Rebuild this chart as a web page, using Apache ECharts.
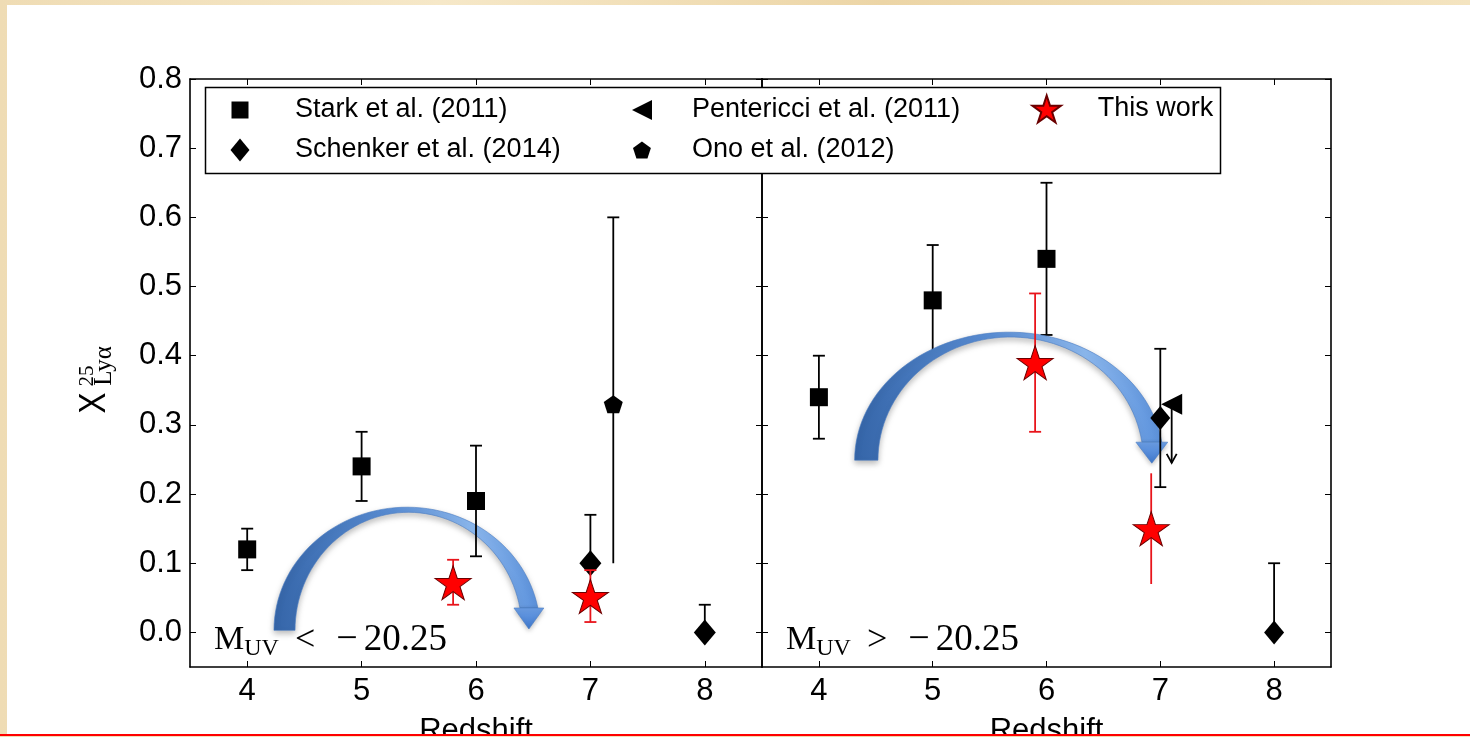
<!DOCTYPE html>
<html>
<head>
<meta charset="utf-8">
<script src="https://cdn.jsdelivr.net/npm/echarts@6/dist/echarts.min.js"></script>
<style>
html,body{margin:0;padding:0;width:1470px;height:737px;overflow:hidden;
  background:linear-gradient(90deg,#efdcb4 0%,#f6e8c8 30%,#ecd5a6 60%,#f4e4c0 100%);}
#bg{position:absolute;left:7px;top:5px;width:1463px;height:730px;background:#fff;}
#chart{position:absolute;left:0;top:0;width:1470px;height:735px;}
#rule{position:absolute;left:0;top:734px;width:1470px;height:2px;background:#ff0000;}
</style>
</head>
<body>
<div id="bg"></div>
<div id="chart"></div>
<div id="rule"></div>
<script>
// ---------------- data ----------------
const xTickValues = [4, 5, 6, 7, 8];
const yTickValues = [0, 0.1, 0.2, 0.3, 0.4, 0.5, 0.6, 0.7, 0.8];
const xTitle = 'Redshift';
const panelRelations = ['<', '>'];
const panelThreshold = '20.25';

const nameStark = 'Stark et al. (2011)';
const nameSchenker = 'Schenker et al. (2014)';
const namePentericci = 'Pentericci et al. (2011)';
const nameOno = 'Ono et al. (2012)';
const nameThis = 'This work';

// Left panel: M_UV < -20.25   [redshift, X_Lya]
const starkL = [[4, 0.12], [5, 0.24], [6, 0.19]];
const starkLErr = [[0.09, 0.15], [0.19, 0.29], [0.11, 0.27]];
const schenkerL = [[7, 0.10], [8, 0.0]];
const schenkerLErr = [[null, 0.17], [null, 0.04]];
const onoL = [[7.2, 0.33]];
const onoLErr = [[0.10, 0.60]];
const onoLCaps = [[false, true]];
const thisL = [[5.8, 0.072], [7.0, 0.052]];
const thisLErr = [[0.04, 0.105], [0.015, 0.09]];

// Right panel: M_UV > -20.25
const starkR = [[4, 0.34], [5, 0.48], [6, 0.54]];
const starkRErr = [[0.28, 0.40], [0.40, 0.56], [0.43, 0.65]];
const schenkerR = [[7.0, 0.31], [8, 0.0]];
const schenkerRErr = [[0.21, 0.41], [null, 0.10]];
const pentericciR = [[7.1, 0.33]];
const pentericciRLimit = [0.245];
const thisR = [[5.9, 0.39], [6.92, 0.15]];
const thisRErr = [[0.29, 0.49], [0.07, 0.23]];
const thisRCaps = [[true, true], [false, false]];

// ---------------- styling ----------------
const SANS = '"Liberation Sans", Arial, Helvetica, sans-serif';
const SERIF = '"Liberation Serif", "Times New Roman", serif';
const SYM = {
  square: 'path://M0,0L10,0L10,10L0,10Z',
  diamond: 'path://M10,0L20,12L10,24L0,12Z',
  left: 'path://M0,10L20,0L20,20Z',
  star: 'path://M50,0L61.23,34.55L97.55,34.55L68.17,55.9L79.39,90.45L50,69.1L20.61,90.45L31.83,55.9L2.45,34.55L38.77,34.55Z',
  pentagon: 'path://M50,0L97.55,34.55L79.39,90.45L20.61,90.45L2.45,34.55Z'
};

const chart = echarts.init(document.getElementById('chart'), null, {renderer: 'canvas'});

function xAxisDef(grid, pos) {
  const bottom = pos === 'bottom';
  return {
    type: 'value', gridIndex: grid, position: pos, min: 3.5, max: 8.5,
    axisLine: {show: true, onZero: false, lineStyle: {color: '#000', width: 1.6}},
    axisTick: {show: true, inside: true, length: 6, customValues: xTickValues, lineStyle: {color: '#000', width: 1}},
    axisLabel: {show: bottom, customValues: xTickValues, margin: 9, fontSize: 31, color: '#000', fontFamily: SANS,
      formatter: v => String(v)},
    splitLine: {show: false},
    name: bottom ? xTitle : '', nameLocation: 'middle', nameGap: 49, nameMoveOverlap: false,
    nameTextStyle: {fontSize: 31, color: '#000', fontFamily: SANS}
  };
}
function yAxisDef(grid, pos, labels) {
  return {
    type: 'value', gridIndex: grid, position: pos, min: -0.05, max: 0.8,
    axisLine: {show: true, onZero: false, lineStyle: {color: '#000', width: 1.6}},
    axisTick: {show: true, inside: true, length: 6, customValues: yTickValues, lineStyle: {color: '#000', width: 1}},
    axisLabel: {show: labels, customValues: yTickValues, margin: 8, fontSize: 31, color: '#000', fontFamily: SANS,
      formatter: v => v.toFixed(1)},
    splitLine: {show: false}
  };
}

function scatter(name, pts, ax, symbol, size, color, border, z) {
  return {
    type: 'scatter', name, xAxisIndex: ax, yAxisIndex: ax, data: pts,
    symbol, symbolSize: size, z: z || 4, silent: true, emphasis: {disabled: true},
    itemStyle: {color, borderColor: border || color, borderWidth: border ? 1 : 0, opacity: 1}
  };
}
function buildErr(pts, errs, caps) {
  return pts.map((p, i) => {
    const e = errs[i], c = caps ? caps[i] : [true, true];
    const hasLo = e[0] != null, hasHi = e[1] != null;
    return [p[0], p[1], hasLo ? e[0] : p[1], hasHi ? e[1] : p[1], (hasLo && c[0]) ? 1 : 0, (hasHi && c[1]) ? 1 : 0];
  });
}
function errSeries(pts, errs, caps, ax, color, z) {
  return {
    type: 'custom', xAxisIndex: ax, yAxisIndex: ax, silent: true, z: z || 3, clip: false,
    encode: {x: 0, y: 1},
    data: buildErr(pts, errs, caps),
    renderItem: function (params, api) {
      const x = api.value(0);
      const pLo = api.coord([x, api.value(2)]);
      const pHi = api.coord([x, api.value(3)]);
      const st = {stroke: color, lineWidth: 1.8};
      const ch = [{type: 'line', shape: {x1: pLo[0], y1: pLo[1], x2: pHi[0], y2: pHi[1]}, style: st}];
      if (api.value(4)) ch.push({type: 'line', shape: {x1: pLo[0] - 6, y1: pLo[1], x2: pLo[0] + 6, y2: pLo[1]}, style: st});
      if (api.value(5)) ch.push({type: 'line', shape: {x1: pHi[0] - 6, y1: pHi[1], x2: pHi[0] + 6, y2: pHi[1]}, style: st});
      return {type: 'group', children: ch};
    }
  };
}
function limitSeries(pts, limits, ax) {
  return {
    type: 'custom', xAxisIndex: ax, yAxisIndex: ax, silent: true, z: 3, clip: false,
    encode: {x: 0, y: 1},
    data: pts.map((p, i) => [p[0], p[1], limits[i]]),
    renderItem: function (params, api) {
      const x = api.value(0);
      const a = api.coord([x, api.value(1)]);
      const b = api.coord([x, api.value(2)]);
      const st = {stroke: '#000', lineWidth: 1.8, fill: null};
      return {type: 'group', children: [
        {type: 'line', shape: {x1: a[0], y1: a[1], x2: b[0], y2: b[1]}, style: st},
        {type: 'polyline', shape: {points: [[b[0] - 5, b[1] - 9], [b[0], b[1]], [b[0] + 5, b[1] - 9]]}, style: st}
      ]};
    }
  };
}

const starSize = [36, 34];
const series = [
  // left panel (axes index 0)
  errSeries(starkL, starkLErr, null, 0, '#000', 3),
  errSeries(schenkerL, schenkerLErr, null, 0, '#000', 3),
  errSeries(onoL, onoLErr, onoLCaps, 0, '#000', 3),
  errSeries(thisL, thisLErr, null, 0, '#e8141b', 5),
  scatter(nameStark, starkL, 0, SYM.square, [18, 18], '#000'),
  scatter(nameSchenker, schenkerL, 0, SYM.diamond, [22, 26], '#000'),
  scatter(nameOno, onoL, 0, SYM.pentagon, [19, 18], '#000'),
  scatter(nameThis, thisL, 0, SYM.star, starSize, '#ff0000', '#6a0000', 6),
  // right panel (axes index 2)
  errSeries(starkR, starkRErr, null, 2, '#000', 1),
  errSeries(schenkerR, schenkerRErr, null, 2, '#000', 3),
  limitSeries(pentericciR, pentericciRLimit, 2),
  errSeries(thisR, thisRErr, thisRCaps, 2, '#e8141b', 5),
  scatter(nameStark, starkR, 2, SYM.square, [18, 18], '#000'),
  scatter(nameSchenker, schenkerR, 2, SYM.diamond, [20, 24], '#000'),
  scatter(namePentericci, pentericciR, 2, SYM.left, [21, 21], '#000'),
  scatter(nameThis, thisR, 2, SYM.star, starSize, '#ff0000', '#6a0000', 6)
];

// single-item legends laid out in the boxed key: [name, iconCenterX, rowCenterY, iconW, iconH, textStartX]
const legendSlots = [
  [nameStark, 240, 110, 17, 17, 295],
  [nameSchenker, 240, 150, 19, 26, 295],
  [namePentericci, 642, 110, 20, 20, 692],
  [nameOno, 642, 150, 18, 17, 692],
  [nameThis, 1046, 109, 29, 27, 1097]
];
const legends = legendSlots.map(s => {
  const [name, cx, cy, w, h, tx] = s;
  const lh = 30;
  return {
    data: [name], orient: 'vertical', padding: 0, z: 8, selectedMode: false,
    left: cx - w / 2, top: cy - Math.max(h, lh) / 2,
    itemWidth: w, itemHeight: h, symbolKeepAspect: true,
    formatter: n => '{sp| }' + n,
    textStyle: {fontSize: 27, fontFamily: SANS, color: '#000', lineHeight: lh,
      rich: {sp: {width: tx - (cx + w / 2) - 5, lineHeight: lh}}}
  };
});

const option = {
  animation: false,
  backgroundColor: 'transparent',
  grid: [
    {left: 190, top: 79, width: 572, height: 588, outerBoundsMode: 'none', containLabel: false},
    {left: 762, top: 79, width: 569, height: 588, outerBoundsMode: 'none', containLabel: false}
  ],
  xAxis: [xAxisDef(0, 'bottom'), xAxisDef(0, 'top'), xAxisDef(1, 'bottom'), xAxisDef(1, 'top')],
  yAxis: [yAxisDef(0, 'left', true), yAxisDef(0, 'right', false), yAxisDef(1, 'left', false), yAxisDef(1, 'right', false)],
  legend: legends,
  series
};
chart.setOption(option);

// ---------------- annotations (curved arrows, panel labels, y title) ----------------
const arrowDefs = [
  {ax: 0, base: 0.003, outer: [5.397, 1.163, 0.178], inner: [5.41, 0.992, 0.1706], endY: 0.0353},
  {ax: 2, base: 0.249, outer: [5.670, 1.356, 0.185], inner: [5.685, 1.166, 0.178], endY: 0.275}
];
function px(ax, x, y) { return chart.convertToPixel({xAxisIndex: ax, yAxisIndex: ax}, [x, y]); }
function ellipse(ax, base, e, endY) {
  const c = px(ax, e[0], base);
  const a = px(ax, e[0] + e[1], base)[0] - c[0];
  const b = c[1] - px(ax, e[0], base + e[2])[1];
  const yEnd = px(ax, e[0], endY)[1];
  const tEnd = Math.asin(Math.min(1, (c[1] - yEnd) / b));
  const pts = [];
  const N = 60;
  for (let i = 0; i <= N; i++) {
    const t = Math.PI + (tEnd - Math.PI) * i / N;
    pts.push([c[0] + a * Math.cos(t), c[1] - b * Math.sin(t)]);
  }
  return pts;
}
const graphics = [];
arrowDefs.forEach(d => {
  const o = ellipse(d.ax, d.base, d.outer, d.endY);
  const inn = ellipse(d.ax, d.base, d.inner, d.endY);
  const shaft = o.concat(inn.slice().reverse());
  const O = o[o.length - 1], I = inn[inn.length - 1];
  let dx = O[0] - I[0], dy = O[1] - I[1];
  const L = Math.hypot(dx, dy); dx /= L; dy /= L;
  const ext = 6, headLen = 21;
  const mid = [(O[0] + I[0]) / 2, (O[1] + I[1]) / 2];
  const tip = [mid[0] - dy * headLen, mid[1] + dx * headLen];
  const head = [[I[0] - dx * ext, I[1] - dy * ext], [O[0] + dx * ext, O[1] + dy * ext], tip];
  graphics.push({
    type: 'polygon', z: 2, silent: true,
    shape: {points: shaft},
    style: {
      fill: new echarts.graphic.LinearGradient(0, 0, 1, 0, [
        {offset: 0, color: '#3565a8'}, {offset: 0.45, color: '#5b8fd6'},
        {offset: 0.75, color: '#8cb8ee'}, {offset: 1, color: '#5c92dc'}]),
      stroke: '#4a7cc2', lineWidth: 0.6,
      shadowBlur: 6, shadowOffsetY: 3, shadowColor: 'rgba(0,0,0,0.28)'
    }
  });
  graphics.push({
    type: 'polygon', z: 2, silent: true,
    shape: {points: head},
    style: {
      fill: new echarts.graphic.LinearGradient(0, 0, 0, 1, [
        {offset: 0, color: '#6c9fe6'}, {offset: 1, color: '#3f78cc'}]),
      stroke: '#4a7cc2', lineWidth: 0.6,
      shadowBlur: 5, shadowOffsetY: 2, shadowColor: 'rgba(0,0,0,0.25)'
    }
  });
});

// panel labels  M_UV < / > -20.25
[0, 2].forEach((ax, i) => {
  const p = px(ax, 3.5, 0);
  graphics.push({
    type: 'text', z: 7, silent: true, x: p[0] + 24, y: p[1] + 8,
    style: {
      text: '{m|M}{s|UV}{o|' + panelRelations[i] + '}{d|\u2212}{n|' + panelThreshold + '}',
      fill: '#000', align: 'left', verticalAlign: 'middle',
      rich: {
        m: {fontSize: 34, fontFamily: SERIF, lineHeight: 40, verticalAlign: 'middle', fill: '#000'},
        s: {fontSize: 24, fontFamily: SERIF, lineHeight: 18, verticalAlign: 'bottom', fill: '#000'},
        o: {fontSize: 36, fontFamily: SERIF, lineHeight: 40, verticalAlign: 'middle', fill: '#000', padding: [0, 0, 0, 16]},
        d: {fontSize: 38, fontFamily: SERIF, lineHeight: 40, verticalAlign: 'middle', fill: '#000', padding: [0, 0, 0, 21]},
        n: {fontSize: 37, fontFamily: SERIF, lineHeight: 40, verticalAlign: 'middle', fill: '#000', padding: [0, 0, 0, 6]}
      }
    }
  });
});

// y-axis title  X^25_{Lyα}  (rotated)
graphics.push(
  {type: 'text', z: 7, silent: true, x: 95, y: 403, rotation: Math.PI / 2, scaleX: 0.85,
    style: {text: 'X', fontSize: 37, fontFamily: SANS, fill: '#000', align: 'center', verticalAlign: 'middle'}},
  {type: 'text', z: 7, silent: true, x: 87, y: 376, rotation: Math.PI / 2,
    style: {text: '25', fontSize: 21, fontFamily: SERIF, fill: '#000', align: 'center', verticalAlign: 'middle'}},
  {type: 'text', z: 7, silent: true, x: 104, y: 366, rotation: Math.PI / 2,
    style: {text: 'Ly\u03b1', fontSize: 25, fontFamily: SERIF, fill: '#000', align: 'center', verticalAlign: 'middle'}}
);

// boxed key frame
graphics.push({
  type: 'rect', z: 5, silent: true,
  shape: {x: 205.5, y: 87.5, width: 1015, height: 86},
  style: {fill: '#fff', stroke: '#000', lineWidth: 1.5}
});

chart.setOption({graphic: graphics});
</script>
</body>
</html>
